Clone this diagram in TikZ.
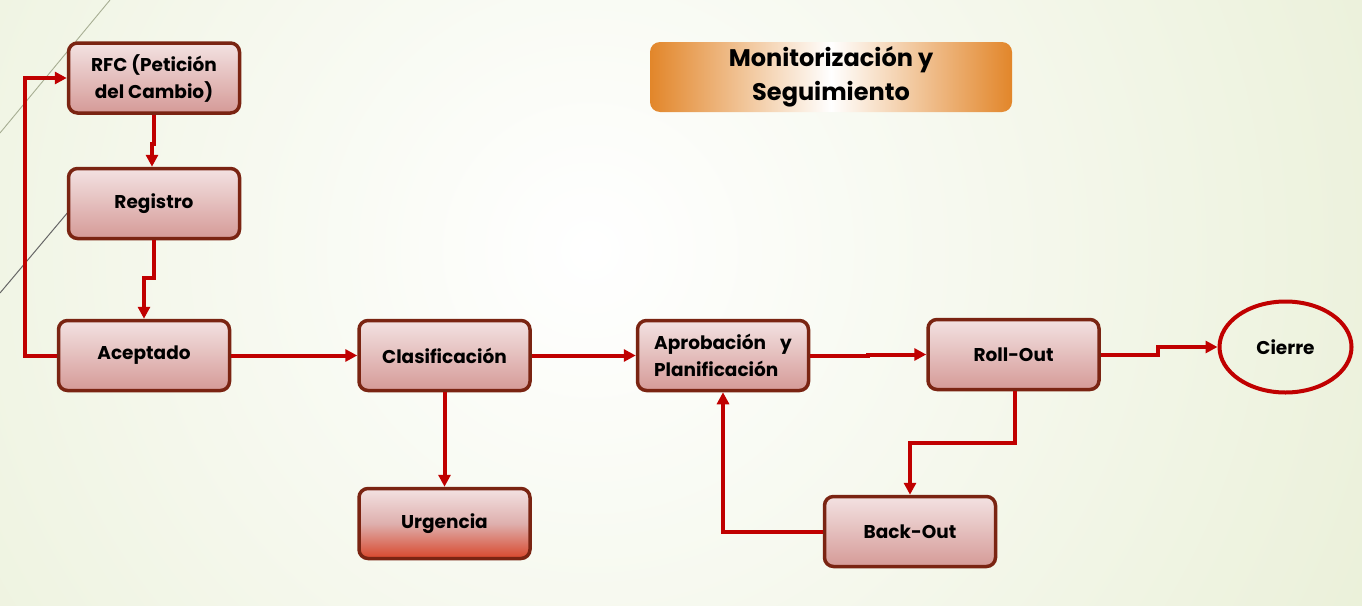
\documentclass[tikz,border=0pt]{standalone}
\usepackage{fontspec}
\setmainfont{Poppins}
\usetikzlibrary{arrows.meta,shapes.geometric}
\definecolor{boxline}{HTML}{7A2412}
\definecolor{linkred}{HTML}{C00000}
\definecolor{boxtop}{HTML}{F3E2E2}
\definecolor{boxbot}{HTML}{D59A97}
\definecolor{urgbot}{HTML}{D8462B}
\definecolor{orangeE}{HTML}{E2862A}
\definecolor{bgedge}{HTML}{DFE8C4}
\newcommand\boxfont{\bfseries\fontsize{18.5}{27}\selectfont}
\tikzset{
 proc/.style={draw=boxline, line width=3.5pt, rounded corners=9pt, top color=boxtop, bottom color=boxbot,
   minimum width=171pt, minimum height=70pt, align=center, font=\boxfont, inner sep=0pt, text=black},
 link/.style={draw=linkred, line width=4pt, -{Triangle[length=12pt,width=12pt]}},
}
\begin{document}
\begin{tikzpicture}[x=1pt,y=-1pt]
\useasboundingbox (0,0) rectangle (1362,605);
\begin{scope}
\clip (0,0) rectangle (1362,605);
\fill[bgedge] (0,0) rectangle (1362,605);
\shade[inner color=white, outer color=bgedge] (590,250) circle (1350pt);
\end{scope}
\draw[black!25!bgedge, line width=0.9pt] (0,133) -- (110,0);
\draw[black!60, line width=1pt] (0,293) -- (90,186);

\node[proc] (rfc) at (154,78) {RFC (Petición\\del Cambio)};
\node[proc] (reg) at (154,203.5) {Registro};
\node[proc] (acep) at (144,355.5) {Aceptado};
\node[proc] (clas) at (444.5,355.5) {Clasificación};
\node[proc, top color=boxtop, bottom color=urgbot, middle color=boxbot!70!boxtop] (urg) at (444.5,523.5) {Urgencia};
\node[proc, align=left] (aprob) at (723,355.5) {Aprobación\hspace{0.55em} y\\Planificación};
\node[proc] (roll) at (1013.5,354.5) {Roll-Out};
\node[proc] (back) at (910,531.5) {Back-Out};
\node[ellipse, draw=linkred, line width=4pt, minimum width=132pt, minimum height=91pt, font=\boxfont, inner sep=0pt] (cierre) at (1285.5,347) {Cierre};
\node[rounded corners=10pt, left color=orangeE, right color=orangeE, middle color=white,
  minimum width=362pt, minimum height=70pt, align=center, font=\bfseries\fontsize{24}{34}\selectfont] (mon) at (831,77) {Monitorización y\\Seguimiento};

\draw[link] (rfc.south) -- ++(0,29) -| ([xshift=-2pt]reg.north);
\draw[link] (reg.south) -- ++(0,38) -| (acep.north);
\draw[link] (acep.west) -- ++(-32,0) |- (rfc.west);
\draw[link] (acep.east) -- (clas.west);
\draw[link] (clas.south) -- (urg.north);
\draw[link] (clas.east) -- (aprob.west);
\draw[link] (aprob.east) -- ++(58,0) |- (roll.west);
\draw[link] ([xshift=1.5pt]roll.south) -- ++(0,52) -| (back.north);
\draw[link] (back.west) -| (aprob.south);
\draw[link] (roll.east) -- ++(57,0) |- (cierre.west);
\end{tikzpicture}
\end{document}
